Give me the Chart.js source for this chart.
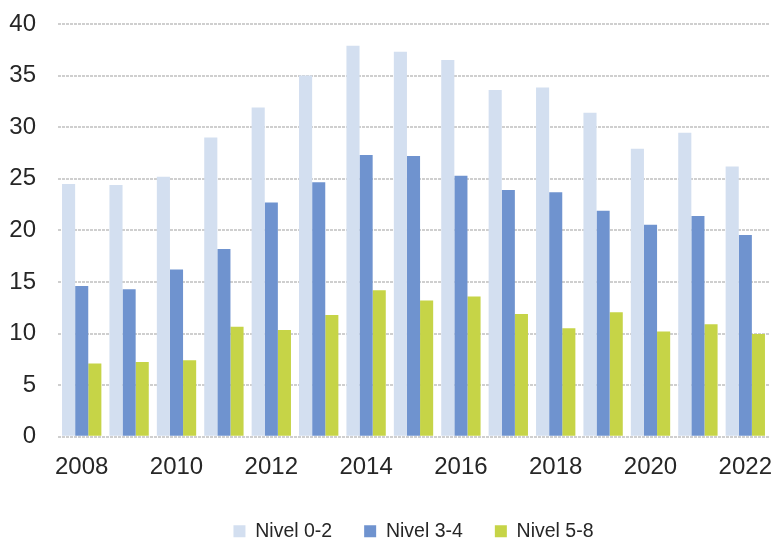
<!DOCTYPE html>
<html>
<head>
<meta charset="utf-8">
<script src="https://cdn.jsdelivr.net/npm/chart.js@4"></script>
<style>
	html, body { margin: 0; padding: 0; background: #fff; }
	#wrap { width: 780px; height: 546px; }
</style>
</head>
<body>
<div id="wrap"><canvas id="chart"></canvas></div>
<script>
const years = ['2008', '2009', '2010', '2011', '2012', '2013', '2014', '2015', '2016', '2017', '2018', '2019', '2020', '2021', '2022'];
const nivel02 = [24.5, 24.4, 25.2, 29.0, 31.9, 35.0, 37.9, 37.3, 36.5, 33.6, 33.85, 31.4, 27.9, 29.45, 26.2];
const nivel34 = [14.6, 14.3, 16.2, 18.2, 22.7, 24.65, 27.3, 27.2, 25.3, 23.9, 23.7, 21.9, 20.55, 21.4, 19.55];
const nivel58 = [7.1, 7.25, 7.4, 10.65, 10.35, 11.8, 14.2, 13.2, 13.6, 11.9, 10.5, 12.05, 10.2, 10.9, 9.95];
const seriesNames = ['Nivel 0-2', 'Nivel 3-4', 'Nivel 5-8'];

const colors = ['#d3dff0', '#6f93cf', '#c6d447'];
const fontFamily = "'Liberation Sans', Arial, sans-serif";
const textColor = '#262626';

const ctx = document.getElementById('chart').getContext('2d');
new Chart(ctx, {
	type: 'bar',
	data: {
		labels: years,
		datasets: [nivel02, nivel34, nivel58].map((d, i) => ({
			label: seriesNames[i],
			data: d,
			backgroundColor: colors[i],
			borderWidth: 0,
			categoryPercentage: 0.83,
			barPercentage: 1.0
		}))
	},
	options: {
		responsive: true,
		maintainAspectRatio: false,
		animation: false,
		layout: { padding: { top: 24, right: 0, left: 0, bottom: -5 } },
		plugins: {
			tooltip: { enabled: false },
			legend: {
				position: 'bottom',
				fullSize: false,
				labels: {
					color: textColor,
					font: { family: fontFamily, size: 19.5 },
					boxWidth: 12,
					boxHeight: 12,
					padding: 32
				}
			}
		},
		scales: {
			x: {
				grid: { display: false },
				border: { display: false },
				ticks: {
					color: textColor,
					font: { family: fontFamily, size: 24 },
					autoSkip: false,
					maxRotation: 0,
					padding: 8,
					callback: function (value, index) {
						return index % 2 === 0 ? years[index] : '';
					}
				}
			},
			y: {
				min: 0,
				max: 40,
				afterFit: s => { s.width = 58; },
				border: { display: false, dash: [3, 1] },
				grid: {
					drawTicks: true,
					tickLength: 22,
					tickColor: 'rgba(0,0,0,0)',
					lineWidth: 2,
					color: c => (c.tick.value % 5 === 0 ? '#cfcfcf' : '#ebebeb')
				},
				ticks: {
					stepSize: 2.5,
					color: textColor,
					font: { family: fontFamily, size: 24 },
					padding: 0,
					callback: v => (v % 5 === 0 ? v : '')
				}
			}
		}
	}
});
</script>
</body>
</html>
